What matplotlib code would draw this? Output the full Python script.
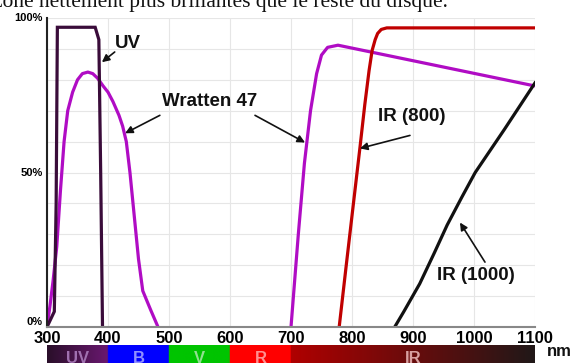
import numpy as np
import matplotlib
matplotlib.use("Agg")
import matplotlib.pyplot as plt
from matplotlib.colors import to_rgb

# === DADOS ===
uv_nm = [300, 312, 315, 317, 379, 385, 388, 391]
uv_t = [0, 5, 40, 97, 97, 93, 50, 0]

w47a_nm = [300, 305, 310, 316, 322, 328, 334, 342, 350, 358, 367, 375, 383,
           392, 400, 408, 418, 424, 430, 436, 442, 450, 457, 470, 482]
w47a_t = [0, 7, 15, 26, 44, 60, 70, 76, 80, 82, 82.5, 82, 80.5,
          78, 76, 73, 68.5, 65, 60, 50, 38, 22, 11.7, 5.5, 0]

w47b_nm = [700, 712, 722, 732, 742, 750, 760, 777, 1100]
w47b_t = [0, 30, 53, 70, 82, 88, 90.5, 91.2, 78]

ir800_nm = [779, 790, 800, 813, 821, 828, 833, 838, 842, 848, 857, 1100]
ir800_t = [0, 19, 36, 58, 72, 83, 89.5, 93, 95, 96.3, 96.8, 96.8]

ir1000_nm = [870, 885, 911, 935, 956, 980, 1002, 1050, 1100]
ir1000_t = [0, 5, 14, 24, 33, 42, 50, 64, 79]

x_ticks = [300, 400, 500, 600, 700, 800, 900, 1000, 1100]
y_ticks = [0, 50, 100]
y_labels = ["0%", "50%", "100%"]

# bandes de couleur sous l'axe
band_names = ["UV", "B", "V", "R", "IR"]
band_edges = [300, 400, 500, 600, 700, 1100]
band_start = ["#2a0f2a", "#0000ff", "#00c400", "#ff0000", "#b00000"]
band_end = ["#6a1870", "#0000ff", "#00c400", "#ff0000", "#201818"]
band_text = ["#a070b0", "#9090ff", "#90e090", "#ff9090", "#d8a0a0"]

# === FIGURE ===
W, H = 582, 363
fig = plt.figure(figsize=(W / 100, H / 100), dpi=100)
plt.rcParams['font.family'] = ['Liberation Sans', 'DejaVu Sans']

ax = fig.add_axes([47 / W, (H - 327) / H, (535 - 47) / W, (327 - 18) / H])
ax.set_xlim(300, 1100)
ax.set_ylim(0, 100)

# grille
ax.set_xticks(x_ticks)
ax.set_yticks(np.arange(0, 101, 10), minor=True)
ax.grid(True, which="both", color="#e6e6e6", lw=0.8)
ax.set_axisbelow(True)
ax.tick_params(which="both", length=0)

ax.set_xticklabels([str(v) for v in x_ticks], fontsize=12, fontweight="bold")
ax.tick_params(axis="x", pad=3)
ax.set_yticks(y_ticks)
ax.set_yticklabels(y_labels, fontsize=8, fontweight="bold")
ax.tick_params(axis="y", pad=3)
ax.get_yticklabels()[0].set_va("bottom")
ax.get_yticklabels()[2].set_va("center")

for s in ["top", "right"]:
    ax.spines[s].set_visible(False)
ax.spines["left"].set_color("#222222")
ax.spines["left"].set_linewidth(1.5)
ax.spines["bottom"].set_color("#888888")
ax.spines["bottom"].set_linewidth(1.5)

# courbes
lw = 2.3
ax.plot(w47a_nm, w47a_t, color="#b00cc4", lw=lw, solid_capstyle="butt")
ax.plot(w47b_nm, w47b_t, color="#b00cc4", lw=lw, solid_capstyle="butt")
ax.plot(uv_nm, uv_t, color="#3a0c3a", lw=lw, solid_joinstyle="miter")
ax.plot(ir800_nm, ir800_t, color="#c00000", lw=lw)
ax.plot(ir1000_nm, ir1000_t, color="#111111", lw=lw)

# étiquettes + flèches
lab = dict(fontsize=13.5, fontweight="bold", ha="center", va="center", color="#111111")
arr = dict(arrowstyle="-|>", lw=1.2, color="#111111", mutation_scale=11,
           shrinkA=0, shrinkB=0)
ax.text(433, 91.6, "UV", **lab)
ax.annotate("", xy=(390, 85.7), xytext=(411, 89), arrowprops=arr)
ax.text(566, 73, "Wratten 47", **lab)
ax.annotate("", xy=(428, 62.7), xytext=(485, 68.5), arrowprops=arr)
ax.annotate("", xy=(723, 59.7), xytext=(641, 68.5), arrowprops=arr)
ax.text(898, 68.2, "IR (800)", **lab)
ax.annotate("", xy=(813, 57.8), xytext=(895, 62), arrowprops=arr)
ax.text(1003, 16.6, "IR (1000)", **lab)
ax.annotate("", xy=(977, 33.8), xytext=(1018, 21), arrowprops=arr)

# === bande spectrale ===
bx = fig.add_axes([47 / W, -0.03, (535 - 47) / W, 0.03 + (363 - 345) / H])
nm = np.linspace(300, 1100, 801)
img = np.zeros((1, len(nm), 3))
for i in range(len(band_names)):
    a, b = band_edges[i], band_edges[i + 1]
    m = (nm >= a) & (nm <= b)
    f = ((nm[m] - a) / (b - a))[:, None]
    img[0, m] = (1 - f) * np.array(to_rgb(band_start[i])) + f * np.array(to_rgb(band_end[i]))
bx.imshow(img, aspect="auto", extent=(300, 1100, 0, 1), interpolation="bilinear")
bx.set_xlim(300, 1100)
bx.set_ylim(0, 1)
bx.axis("off")
for i, name in enumerate(band_names):
    cx = (band_edges[i] + band_edges[i + 1]) / 2
    bx.text(cx, 0.55, name, ha="center", va="center", fontsize=12,
            fontweight="bold", color=band_text[i])

fig.text(559 / W, 1 - 352 / H, "nm", ha="center", va="center",
         fontsize=12, fontweight="bold", color="#111111")

# texte du document coupé en haut
fig.text(-0.012, 1 - 7.5 / H, "zone nettement plus brillantes que le reste du disque.",
         ha="left", va="baseline", fontsize=15.5, family="Liberation Serif",
         color="#111111")

fig.savefig("out.png", dpi=100)
